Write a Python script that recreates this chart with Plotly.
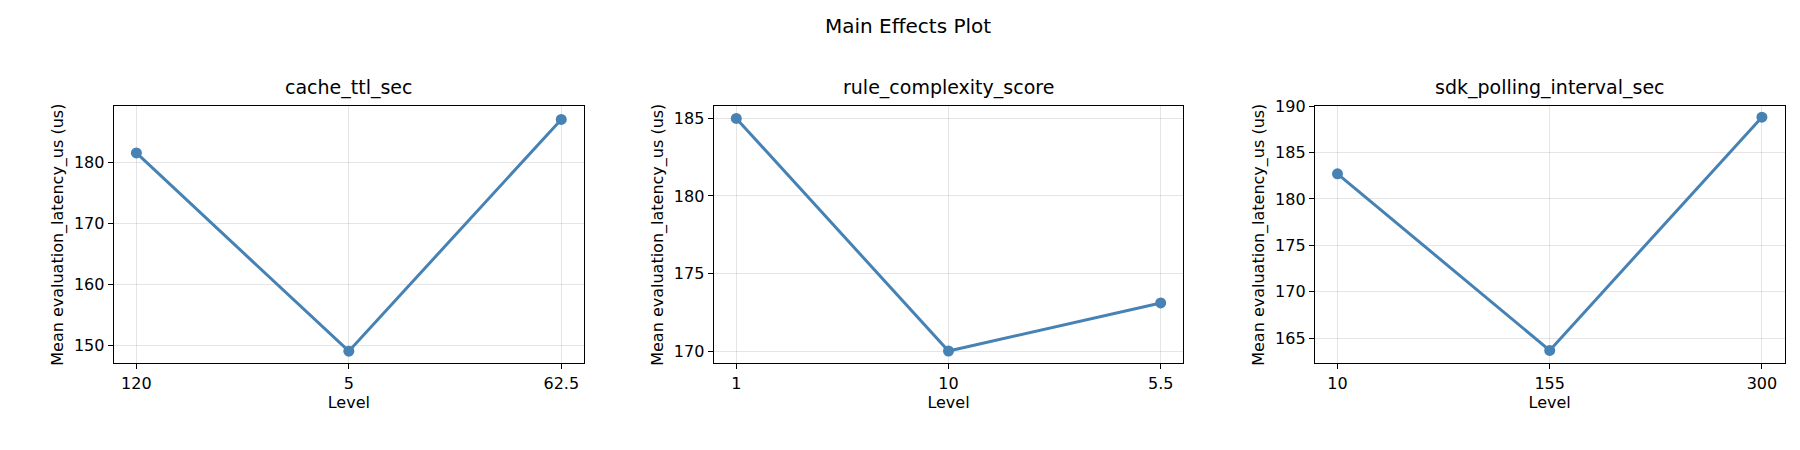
import plotly.graph_objects as go

titles = ["cache_ttl_sec", "rule_complexity_score", "sdk_polling_interval_sec"]
levels = [["120", "5", "62.5"], ["1", "10", "5.5"], ["10", "155", "300"]]
means = [[181.5, 149.0, 187.0], [185.0, 170.0, 173.1], [182.7, 163.7, 188.8]]
yranges = [[147.0, 189.2], [169.2, 185.8], [162.3, 190.0]]
ydticks = [10, 5, 5]

fig = go.Figure()
doms = [[0.0587, 0.320], [0.392, 0.653], [0.726, 0.987]]
ydom = [0.215, 0.80]
font = dict(family="DejaVu Sans", color="black")
for i in range(3):
    xa = "x" if i == 0 else f"x{i+1}"
    ya = "y" if i == 0 else f"y{i+1}"
    fig.add_trace(go.Scatter(x=levels[i], y=means[i], mode="lines+markers",
                             line=dict(color="#4682b4", width=3),
                             marker=dict(color="#4682b4", size=11),
                             xaxis=xa, yaxis=ya, showlegend=False))
    axcommon = dict(showline=True, mirror=True, linecolor="black", linewidth=1,
                    ticks="outside", ticklen=5, tickcolor="black",
                    showgrid=True, gridcolor="rgba(0,0,0,0.1)",
                    tickfont=dict(size=16, **font), zeroline=False)
    fig.layout[f"xaxis{'' if i == 0 else i+1}"] = dict(
        domain=doms[i], anchor=ya, type="category", range=[-0.107, 2.107],
        title=dict(text="Level", font=dict(size=16, **font), standoff=4), **axcommon)
    fig.layout[f"yaxis{'' if i == 0 else i+1}"] = dict(
        domain=ydom, anchor=xa, range=yranges[i], dtick=ydticks[i],
        title=dict(text="Mean evaluation_latency_us (us)", font=dict(size=16, **font), standoff=6),
        **axcommon)
    fig.add_annotation(text=titles[i], x=(doms[i][0] + doms[i][1]) / 2, y=ydom[1] + 0.012,
                       xref="paper", yref="paper", xanchor="center", yanchor="bottom",
                       showarrow=False, font=dict(size=19, **font))

fig.add_annotation(text="Main Effects Plot", x=0.5, y=1.0, xref="paper", yref="paper",
                   xanchor="center", yanchor="top", yshift=6, showarrow=False,
                   font=dict(size=20, **font))
fig.update_layout(width=1800, height=450, margin=dict(l=0, r=0, t=10, b=0),
                  paper_bgcolor="white", plot_bgcolor="white", font=font)
fig.write_html("out.html")
